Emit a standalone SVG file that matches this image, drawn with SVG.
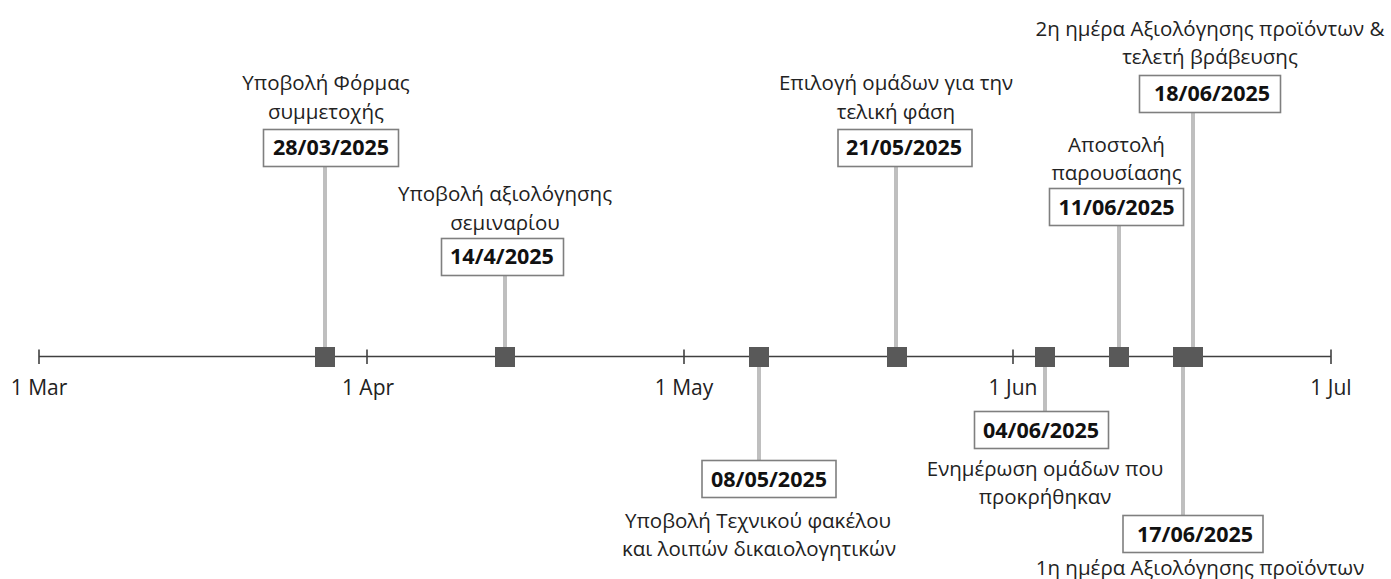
<svg xmlns="http://www.w3.org/2000/svg" width="1391" height="579" viewBox="0 0 1391 579">
<style>
.lbl{font-family:"Open Sans","Noto Sans","DejaVu Sans",sans-serif;font-size:20.5px;fill:#222;text-anchor:middle}
.dt{font-family:"Open Sans","Noto Sans","DejaVu Sans",sans-serif;font-size:21.5px;font-weight:bold;fill:#111;text-anchor:middle}
.ax{font-family:"Open Sans","Noto Sans","DejaVu Sans",sans-serif;font-size:21px;fill:#222;text-anchor:middle}
.box{fill:#fff;stroke:#7f7f7f;stroke-width:1.6}
.stem{stroke:#bfbfbf;stroke-width:4;fill:none}
.mk{fill:#595959}
.axis{stroke:#404040;stroke-width:1.6;fill:none}
</style>
<rect width="1391" height="579" fill="#fff"/>
<g id="axis">
<line class="axis" x1="39" y1="356.5" x2="1331" y2="356.5"/>
<line class="axis" x1="39" y1="349.5" x2="39" y2="364"/>
<line class="axis" x1="367" y1="349.5" x2="367" y2="364"/>
<line class="axis" x1="684" y1="349.5" x2="684" y2="364"/>
<line class="axis" x1="1013" y1="349.5" x2="1013" y2="364"/>
<line class="axis" x1="1331" y1="349.5" x2="1331" y2="364"/>
<text class="ax" x="39" y="395">1 Mar</text>
<text class="ax" x="368" y="395">1 Apr</text>
<text class="ax" x="684" y="395">1 May</text>
<text class="ax" x="1013" y="395">1 Jun</text>
<text class="ax" x="1331" y="395">1 Jul</text>
</g>
<g id="connectors">
<line class="stem" x1="325" y1="166" x2="325" y2="356"/>
<line class="stem" x1="505" y1="276" x2="505" y2="356"/>
<line class="stem" x1="759" y1="356" x2="759" y2="460"/>
<line class="stem" x1="896" y1="167" x2="896" y2="356"/>
<line class="stem" x1="1045" y1="356" x2="1045" y2="411"/>
<line class="stem" x1="1119" y1="226" x2="1119" y2="356"/>
<line class="stem" x1="1183" y1="356" x2="1183" y2="515"/>
<line class="stem" x1="1193" y1="112" x2="1193" y2="356"/>
</g>
<g id="markers">
<rect class="mk" x="315" y="347" width="20" height="20"/>
<rect class="mk" x="495" y="347" width="20" height="20"/>
<rect class="mk" x="749" y="347" width="20" height="20"/>
<rect class="mk" x="887" y="347" width="20" height="20"/>
<rect class="mk" x="1035" y="347" width="20" height="20"/>
<rect class="mk" x="1109" y="347" width="20" height="20"/>
<rect class="mk" x="1173" y="347" width="20" height="20"/>
<rect class="mk" x="1183" y="347" width="20" height="20"/>
</g>
<g id="ev-2803">
<text class="lbl" x="326" y="90">Υποβολή Φόρμας</text>
<text class="lbl" x="326" y="119">συμμετοχής</text>
<rect class="box" x="263.5" y="129.5" width="135" height="37"/>
<text class="dt" x="331" y="155">28/03/2025</text>
</g>
<g id="ev-1404">
<text class="lbl" x="505" y="201">Υποβολή αξιολόγησης</text>
<text class="lbl" x="505" y="230">σεμιναρίου</text>
<rect class="box" x="441.5" y="238.5" width="122" height="37"/>
<text class="dt" x="502" y="264">14/4/2025</text>
</g>
<g id="ev-0805">
<rect class="box" x="702" y="460.5" width="134" height="37"/>
<text class="dt" x="769" y="487">08/05/2025</text>
<text class="lbl" x="758" y="528">Υποβολή Τεχνικού φακέλου</text>
<text class="lbl" x="759" y="556">και λοιπών δικαιολογητικών</text>
</g>
<g id="ev-2105">
<text class="lbl" x="896" y="90">Επιλογή ομάδων για την</text>
<text class="lbl" x="896" y="119">τελική φάση</text>
<rect class="box" x="838" y="129.5" width="134" height="37"/>
<text class="dt" x="904" y="155">21/05/2025</text>
</g>
<g id="ev-0406">
<rect class="box" x="974.5" y="411.5" width="134" height="37"/>
<text class="dt" x="1041" y="438">04/06/2025</text>
<text class="lbl" x="1045" y="476">Ενημέρωση ομάδων που</text>
<text class="lbl" x="1045" y="504">προκρήθηκαν</text>
</g>
<g id="ev-1106">
<text class="lbl" x="1116.5" y="152">Αποστολή</text>
<text class="lbl" x="1116.5" y="180">παρουσίασης</text>
<rect class="box" x="1049.5" y="188.5" width="134" height="37"/>
<text class="dt" x="1116.5" y="215">11/06/2025</text>
</g>
<g id="ev-1706">
<rect class="box" x="1123" y="515.5" width="140" height="37"/>
<text class="dt" x="1195" y="542">17/06/2025</text>
<text class="lbl" x="1200" y="575">1η ημέρα Αξιολόγησης προϊόντων</text>
</g>
<g id="ev-1806">
<text class="lbl" x="1210" y="36">2η ημέρα Αξιολόγησης προϊόντων &amp;</text>
<text class="lbl" x="1210" y="64">τελετή βράβευσης</text>
<rect class="box" x="1139.5" y="75.5" width="141" height="37"/>
<text class="dt" x="1212" y="101">18/06/2025</text>
</g>
</svg>
